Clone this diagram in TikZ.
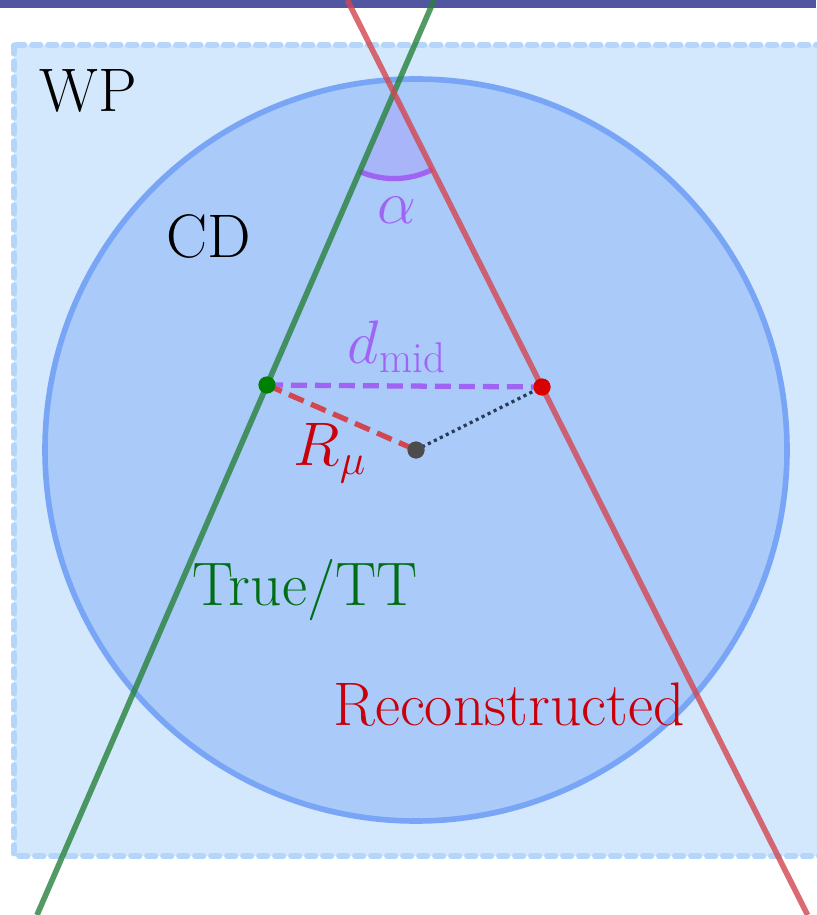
\documentclass[tikz,border=0pt]{standalone}
\usepackage{fix-cm}
\usepackage{amsmath}
\usetikzlibrary{angles}
\definecolor{barblue}{RGB}{82, 86, 160}
\definecolor{wpfill}{RGB}{211, 232, 252}
\definecolor{wpedge}{RGB}{180, 214, 250}
\definecolor{cdfill}{RGB}{170, 202, 250}
\definecolor{cdedge}{RGB}{120, 165, 245}
\definecolor{truegreen}{RGB}{40, 130, 60}
\definecolor{truetext}{RGB}{0, 110, 20}
\definecolor{recored}{RGB}{210, 70, 80}
\definecolor{recotext}{RGB}{200, 0, 10}
\definecolor{midpurple}{RGB}{160, 100, 245}
\definecolor{dotnavy}{RGB}{40, 60, 90}

\begin{document}
\begin{tikzpicture}[
      x=0.02cm, y=-0.02cm,
      lbl/.style={font=\fontsize{35}{42}\selectfont, inner sep=0pt, anchor=base},
      track/.style={line width=3.2pt, draw opacity=0.8},
      dot/.style={circle, inner sep=0pt, minimum size=0.34cm},
      seg/.style={line width=3pt, dash pattern=on 0.32cm off 0.16cm}
    ]
      \useasboundingbox (0,0) rectangle (816,915);
      \fill[barblue] (0,0) rectangle (816,8);

      % regions
      \draw[fill=wpfill, draw=wpedge, line width=3pt, line cap=round, dash pattern=on 0.18cm off 0.14cm] (14,45) rectangle (840,856);
      \draw[fill=cdfill, draw=cdedge, line width=3.2pt] (416,450) circle (371);
      \node[lbl] (wp) at (88,112) {WP};
      \node[lbl] (cd) at (209,257) {CD};

      % tracks
      \coordinate (gtop) at (434.1,0);
      \coordinate (gbot) at (37,915);
      \coordinate (rtop) at (347.3,0);
      \coordinate (rbot) at (807.6,915);
      \coordinate (cross) at (393.9,92.6);
      \pic[draw=midpurple, fill=midpurple, fill opacity=0.2, line width=3pt, angle radius=1.72cm] {angle = gbot--cross--rbot};
      \draw[track, truegreen] (gbot) -- (gtop);
      \draw[track, recored] (rtop) -- (rbot);
      \node[lbl, midpurple] (alpha) at (397,224) {$\alpha$};

      % points
      \node[dot, fill=black!50!green] (ptrue) at (267,385) {};
      \node[dot, fill=red!85!black] (preco) at (542,387) {};
      \node[dot, fill=black!70] (cen) at (416,450) {};
      \draw[seg, midpurple] (ptrue.center) -- (preco.center);
      \draw[seg, recored] (ptrue.center) -- (cen.center);
      \draw[dotnavy, line width=1.8pt, dotted] (cen.center) -- (preco.center);
      \node[dot, fill=black!50!green] at (ptrue) {};
      \node[dot, fill=red!85!black] at (preco) {};
      \node[dot, fill=black!70] at (cen) {};
      \node[lbl, midpurple] (dmid) at (397,363) {$d_{\text{mid}}$};
      \node[lbl, recotext] (rmu) at (330,465) {$R_\mu$};

      \node[lbl, truetext] (truett) at (305,605) {True/TT};
      \node[lbl, recotext] (reco) at (509,725) {Reconstructed};
    \end{tikzpicture}
\end{document}
